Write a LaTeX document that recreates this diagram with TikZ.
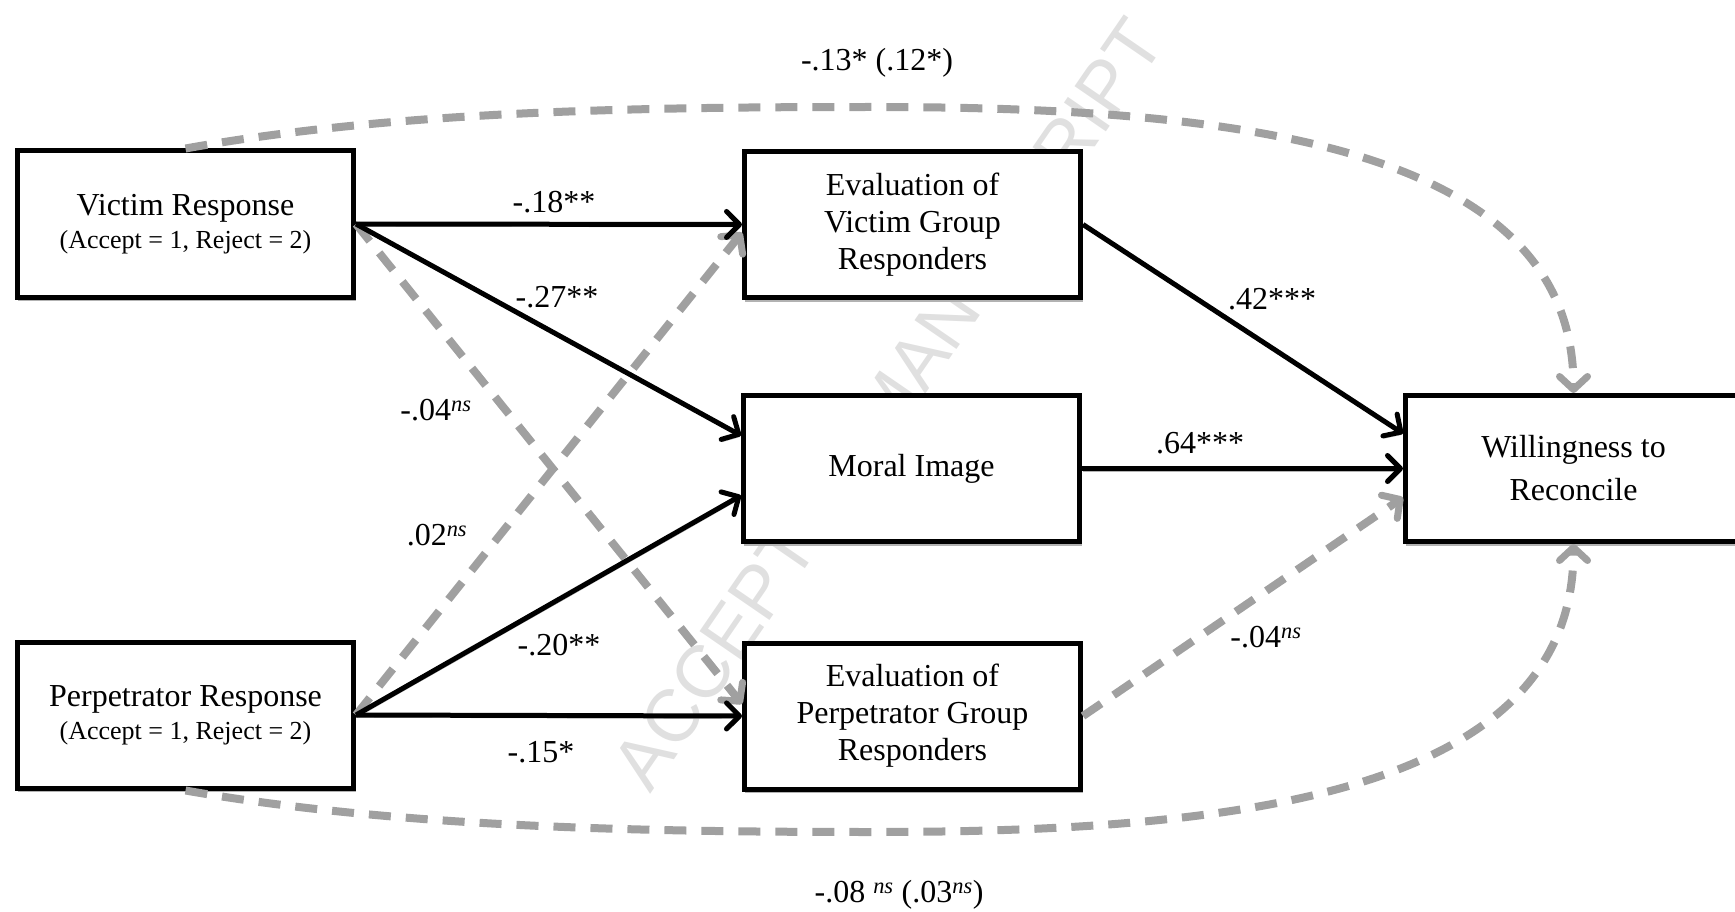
\documentclass[tikz,border=0pt]{standalone}
\usepackage{fontspec}
\setmainfont{Liberation Serif}
\newfontfamily\wmfont{Liberation Sans}
\usetikzlibrary{arrows.meta,calc}
\definecolor{dgray}{RGB}{160,160,160}
\definecolor{shgray}{RGB}{178,178,178}
\definecolor{wmgray}{RGB}{224,224,224}
\newcommand{\nsup}{\textsuperscript{\textit{ns}}}
\begin{document}
\begin{tikzpicture}[x=1pt,y=-1pt,
  box/.style={draw=black, line width=5pt, fill=white, minimum width=336pt, minimum height=146pt,
    inner sep=0pt, align=center, font=\fontsize{32}{37}\selectfont,
    preaction={draw=shgray, line width=2.5pt, transform canvas={shift={(1.5pt,-3pt)}}}},
  solidarrow/.style={draw=black, line width=5pt, -{Straight Barb[round,length=13pt,width=26pt]},
    preaction={draw=shgray, transform canvas={shift={(1pt,-2.5pt)}}}},
  dasharrow/.style={draw=dgray, line width=8pt, dash pattern=on 22pt off 15pt,
    -{Straight Barb[round,length=13pt,width=28pt,line width=7pt]}},
  lab/.style={font=\fontsize{32}{37}\selectfont, inner sep=0pt},
]
\path[use as bounding box] (0,0) rectangle (1735,912);

% watermark
\node[rotate=55.5, text=wmgray, font=\wmfont\fontsize{74}{80}\selectfont, inner sep=0pt] (wm) at (888,404) {ACCEPTED MANUSCRIPT};

% boxes
\node[box] (vr) at (185.5,224) {Victim Response\\[-4pt]{\fontsize{26}{30}\selectfont (Accept = 1, Reject = 2)}};
\node[box] (pr) at (185.5,715) {Perpetrator Response\\[-4pt]{\fontsize{26}{30}\selectfont (Accept = 1, Reject = 2)}};
\node[box] (evg) at (912.5,224.5) {Evaluation of\\Victim Group\\Responders};
\node[box] (mi) at (911.5,468.5) {Moral Image};
\node[box] (epg) at (912.5,716) {Evaluation of\\Perpetrator Group\\Responders};
\node[box] (wr) at (1573.5,468.5) {Willingness to\\[6pt]Reconcile};

\coordinate (topmid) at (874,107);
\coordinate (botmid) at (874,832);

% dashed paths
\draw[dasharrow] (vr.north) .. controls (400,110) and (650,107) .. (topmid)
  .. controls (1250,107) and (1573.5,150) .. (wr.north);
\draw[dasharrow] (pr.south) .. controls (400,828) and (650,832) .. (botmid)
  .. controls (1250,832) and (1573.5,790) .. (wr.south);
\draw[dasharrow] (vr.east) -- ($(epg.west)+(0,-12)$);
\draw[dasharrow] (pr.east) -- ($(evg.west)+(0,8)$);
\draw[dasharrow] (epg.east) -- ($(wr.west)+(0,29)$);

% solid paths
\draw[solidarrow] (vr.east) -- (evg.west);
\draw[solidarrow] (vr.east) -- ($(mi.west)+(0,-33)$);
\draw[solidarrow] (pr.east) -- ($(mi.west)+(0,27)$);
\draw[solidarrow] (pr.east) -- (epg.west);
\draw[solidarrow] (evg.east) -- ($(wr.west)+(0,-35)$);
\draw[solidarrow] (mi.east) -- (wr.west);

% labels
\node[lab] (l1) at (877,63) {-.13* (.12*)};
\node[lab] (l2) at (554,202) {-.18**};
\node[lab] (l3) at (557,297) {-.27**};
\node[lab] (l4) at (436,410) {-.04\nsup};
\node[lab] (l5) at (437,535) {.02\nsup};
\node[lab] (l6) at (559,645) {-.20**};
\node[lab] (l7) at (541,752) {-.15*};
\node[lab] (l8) at (1272,299) {.42***};
\node[lab] (l9) at (1200,443) {.64***};
\node[lab] (l10) at (1266,637) {-.04\nsup};
\node[lab] (l11) at (899,895) {-.08 \nsup{} (.03\nsup)};
\end{tikzpicture}
\end{document}
